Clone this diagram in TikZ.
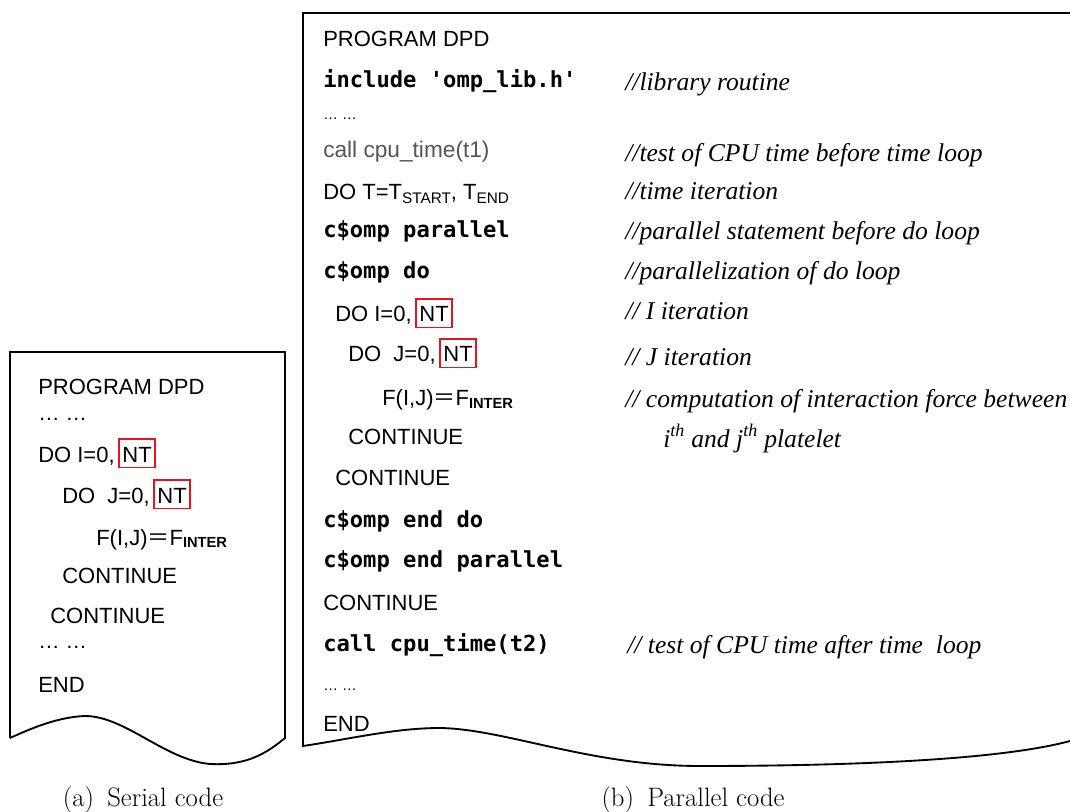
\documentclass[tikz,border=0pt]{standalone}
\usepackage{fontspec}
\newfontfamily\codesans{Liberation Sans}
\newfontfamily\codemono{DejaVu Sans Mono}
\newfontfamily\cmtfont{Liberation Serif}
\newfontfamily\cjkfont{Noto Sans CJK SC}
\definecolor{codegray}{HTML}{555555}
\definecolor{ntred}{HTML}{E8141B}
\newcommand\subsc[1]{\raisebox{-2.5pt}{\fontsize{11.5pt}{12pt}\selectfont #1}}
\newcommand\subbf[1]{\raisebox{-2pt}{\fontsize{11pt}{12pt}\selectfont\bfseries #1}}
\newcommand\fullequal{{\cjkfont ＝}}
\begin{document}
\begin{tikzpicture}[x=0.75pt,y=-0.75pt,
  sans/.style={anchor=base west,inner sep=0pt,font=\codesans\fontsize{16.5pt}{20pt}\selectfont},
  dots/.style={anchor=base west,inner sep=0pt,font=\codesans\fontsize{11pt}{12pt}\selectfont},
  bigdots/.style={anchor=base west,inner sep=0pt,font=\codesans\fontsize{16pt}{20pt}\selectfont},
  mono/.style={anchor=base west,inner sep=0pt,font=\codemono\bfseries\fontsize{16.6pt}{20pt}\selectfont},
  cmt/.style={anchor=base west,inner sep=0pt,font=\cmtfont\itshape\fontsize{19.2pt}{24pt}\selectfont},
  ntbox/.style={anchor=base west,inner xsep=2.4pt,inner ysep=0pt,
    text height=17pt,text depth=4pt,font=\codesans\fontsize{16.5pt}{20pt}\selectfont},
  ntline/.style={draw=ntred,line width=1.1pt},
  capt/.style={anchor=base,inner sep=0pt,font=\fontsize{20pt}{24pt}\selectfont},
  frame/.style={line width=1.4pt,line join=miter}]
\useasboundingbox (0,0) rectangle (1070,812);

% ---------- (a) serial code ----------
\draw[frame] (10,738) -- (10,352) -- (285,352) -- (285,738)
  .. controls (268,752) and (248,766) .. (210,764)
  .. controls (165,760) and (125,716) .. (85,716)
  .. controls (58,717) and (32,728) .. (10,738);

\node[sans] (a1) at (38,395) {PROGRAM DPD};
\node[bigdots] (a2) at (38,421) {… …};
\node[sans] (a3) at (38,462) {DO I=0,};
\node[ntbox] (a3nt) at ([xshift=3pt]a3.base east) {NT};
\node[sans] (a4) at (62,503) {DO\ \ J=0,};
\node[ntbox] (a4nt) at ([xshift=3pt]a4.base east) {NT};
\node[sans] (a5) at (96,545) {F(I,J)\fullequal F\subbf{INTER}};
\node[sans] (a6) at (62,583) {CONTINUE};
\node[sans] (a7) at (50,623) {CONTINUE};
\node[bigdots] (a8) at (38,648) {… …};
\node[sans] (a9) at (38,692) {END};

% ---------- (b) parallel code ----------
\draw[frame] (1070,13) -- (303,13) -- (303,746)
  .. controls (350,739) and (395,728) .. (440,728)
  .. controls (505,729) and (590,766) .. (700,766)
  .. controls (850,766) and (1000,760) .. (1070,741);

\node[sans] (b1) at (323,47) {PROGRAM DPD};
\node[mono] (b2) at (323,88) {include 'omp\_lib.h'};
\node[dots] (b3) at (323,120) {… …};
\node[sans,text=codegray,font=\codesans\fontsize{17pt}{20pt}\selectfont] (b4) at (323,158) {call cpu\_time(t1)};
\node[sans] (b5) at (323,200) {DO T=T\subsc{START}, T\subsc{END}};
\node[mono] (b6) at (323,238) {c\$omp parallel};
\node[mono] (b7) at (323,279) {c\$omp do};
\node[sans] (b8) at (335,322) {DO I=0,};
\node[ntbox] (b8nt) at ([xshift=3pt]b8.base east) {NT};
\node[sans] (b9) at (348,362) {DO\ \ J=0,};
\node[ntbox] (b9nt) at ([xshift=3pt]b9.base east) {NT};
\node[sans] (b10) at (382,406) {F(I,J)\fullequal F\subbf{INTER}};
\node[sans] (b11) at (348,445) {CONTINUE};
\node[sans] (b12) at (335,485) {CONTINUE};
\node[mono] (b13) at (323,527) {c\$omp end do};
\node[mono] (b14) at (323,567) {c\$omp end parallel};
\node[sans] (b15) at (323,610) {CONTINUE};
\node[mono] (b16) at (323,651) {call cpu\_time(t2)};
\node[dots] (b17) at (323,690) {… …};
\node[sans] (b18) at (323,731) {END};

% red frames round the loop bounds
\foreach \n in {a3nt,a4nt,b8nt,b9nt}
  \draw[ntline] (\n.south west) rectangle (\n.north east);

% comments
\node[cmt] (c1) at (625,91) {//library routine};
\node[cmt] (c2) at (625,162) {//test of CPU time before time loop};
\node[cmt] (c3) at (625,200) {//time iteration};
\node[cmt] (c4) at (625,240) {//parallel statement before do loop};
\node[cmt] (c5) at (625,280) {//parallelization of do loop};
\node[cmt] (c6) at (625,320) {// I iteration};
\node[cmt] (c7) at (625,366) {// J iteration};
\node[cmt] (c8) at (625,407) {// computation of interaction force between};
\node[cmt] (c9) at (663,447) {i\textsuperscript{th} and j\textsuperscript{th} platelet};
\node[cmt] (c10) at (627,653) {// test of CPU time after time \ loop};

% captions
\node[capt] (capa) at (143,806) {(a)\hspace{0.5em}Serial code};
\node[capt] (capb) at (693,806) {(b)\hspace{0.5em}Parallel code};
\end{tikzpicture}
\end{document}
